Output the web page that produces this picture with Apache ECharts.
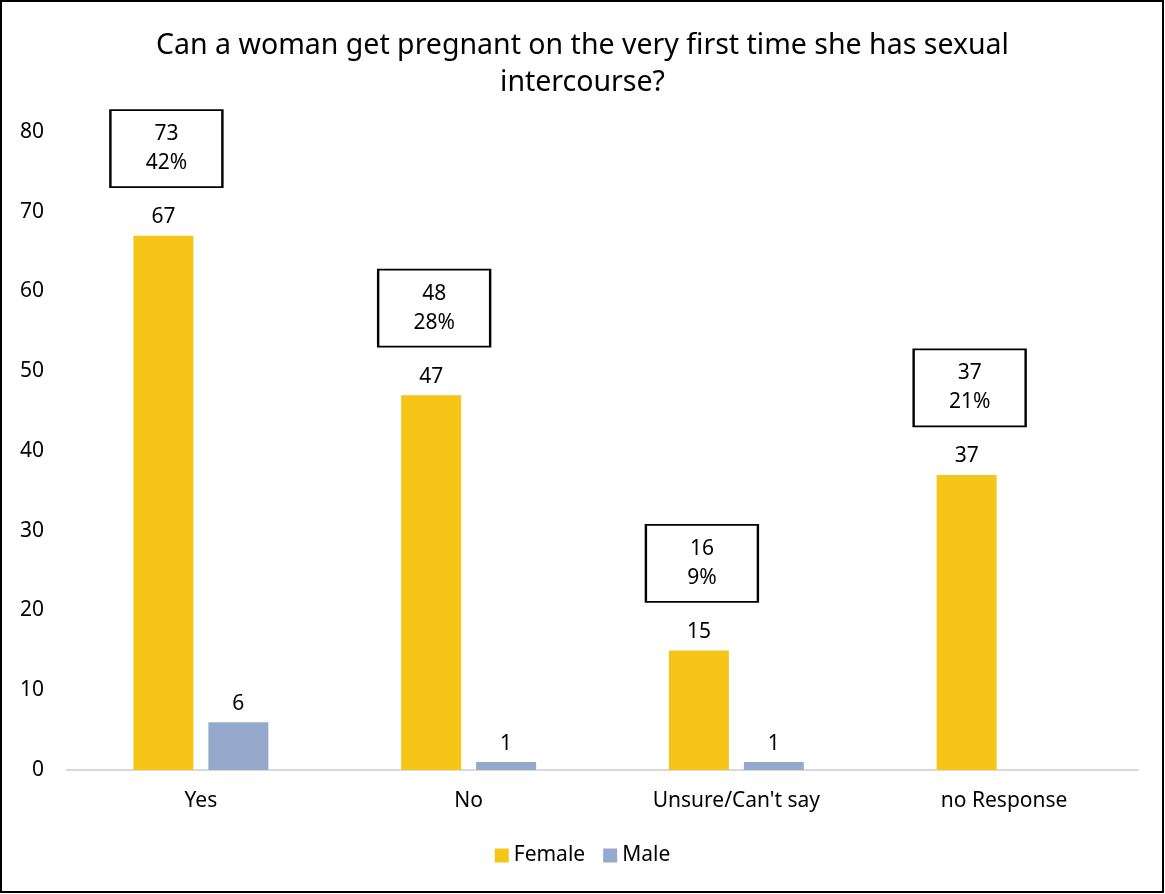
<!DOCTYPE html>
<html>
<head>
<meta charset="utf-8">
<script src="https://cdn.jsdelivr.net/npm/echarts@6/dist/echarts.min.js"></script>
<style>
  html, body { margin: 0; padding: 0; background: #fff; }
  #chart { width: 1165px; height: 894px; }
</style>
</head>
<body>
<div id="chart"></div>
<script>
// Survey answers, split by respondent sex
const categories = ['Yes', 'No', "Unsure/Can't say", 'no Response'];
const female = [67, 47, 15, 37];
const male = [6, 1, 1, null];
// Totals per answer and their share of all respondents
const totals = [73, 48, 16, 37];
const shares = ['42%', '28%', '9%', '21%'];
const yTicks = [0, 10, 20, 30, 40, 50, 60, 70, 80];

const FONT = '"Noto Sans", "Open Sans", sans-serif';
const TEXT = '#000';
const FS = 21;

const chart = echarts.init(document.getElementById('chart'), null, { renderer: 'canvas' });

const totalBoxes = categories.map((c, i) => ({
  coord: [c, female[i]],
  value: totals[i] + '\n' + shares[i]
}));

chart.setOption({
  animation: false,
  backgroundColor: '#fff',
  textStyle: { fontFamily: FONT },
  title: {
    text: 'Can a woman get pregnant on the very first time she has sexual\nintercourse?',
    left: 'center',
    top: 22,
    textStyle: { fontFamily: FONT, fontSize: 28.5, fontWeight: 'normal', color: TEXT, lineHeight: 37 }
  },
  graphic: [{
    type: 'rect',
    shape: { x: 1, y: 1, width: 1162, height: 891 },
    style: { fill: null, stroke: '#000', lineWidth: 2 },
    silent: true
  }],
  legend: {
    bottom: 23,
    left: 'center',
    itemWidth: 14,
    itemHeight: 14,
    itemGap: 18,
    icon: 'rect',
    textStyle: { fontFamily: FONT, fontSize: FS, color: TEXT },
    data: ['Female', 'Male']
  },
  grid: { left: 67, right: 27, top: 132, bottom: 124, containLabel: false },
  xAxis: {
    type: 'category',
    data: categories,
    axisLine: { lineStyle: { color: '#d9d9d9', width: 2 } },
    axisTick: { show: false },
    axisLabel: { fontFamily: FONT, fontSize: FS, color: TEXT, margin: 21 }
  },
  yAxis: {
    type: 'value',
    min: yTicks[0],
    max: yTicks[yTicks.length - 1],
    interval: yTicks[1] - yTicks[0],
    splitLine: { show: false },
    axisLine: { show: false },
    axisTick: { show: false },
    axisLabel: { fontFamily: FONT, fontSize: FS, color: TEXT, margin: 23 }
  },
  series: [
    {
      name: 'Female',
      type: 'bar',
      data: female,
      barWidth: '22.4%',
      barGap: '25%',
      itemStyle: { color: '#F5C518' },
      label: { show: true, position: 'top', distance: 8, fontFamily: FONT, fontSize: FS, color: TEXT },
      markPoint: {
        symbol: 'rect',
        symbolSize: [112, 77],
        symbolOffset: [3, -87],
        itemStyle: { color: '#fff', borderColor: '#000', borderWidth: 2 },
        label: {
          show: true,
          position: 'inside',
          formatter: p => p.value,
          fontFamily: FONT,
          fontSize: FS,
          lineHeight: 29,
          color: TEXT
        },
        data: totalBoxes
      }
    },
    {
      name: 'Male',
      type: 'bar',
      data: male,
      barWidth: '22.4%',
      itemStyle: { color: '#94A9CC' },
      label: { show: true, position: 'top', distance: 8, fontFamily: FONT, fontSize: FS, color: TEXT }
    }
  ]
});
</script>
</body>
</html>
